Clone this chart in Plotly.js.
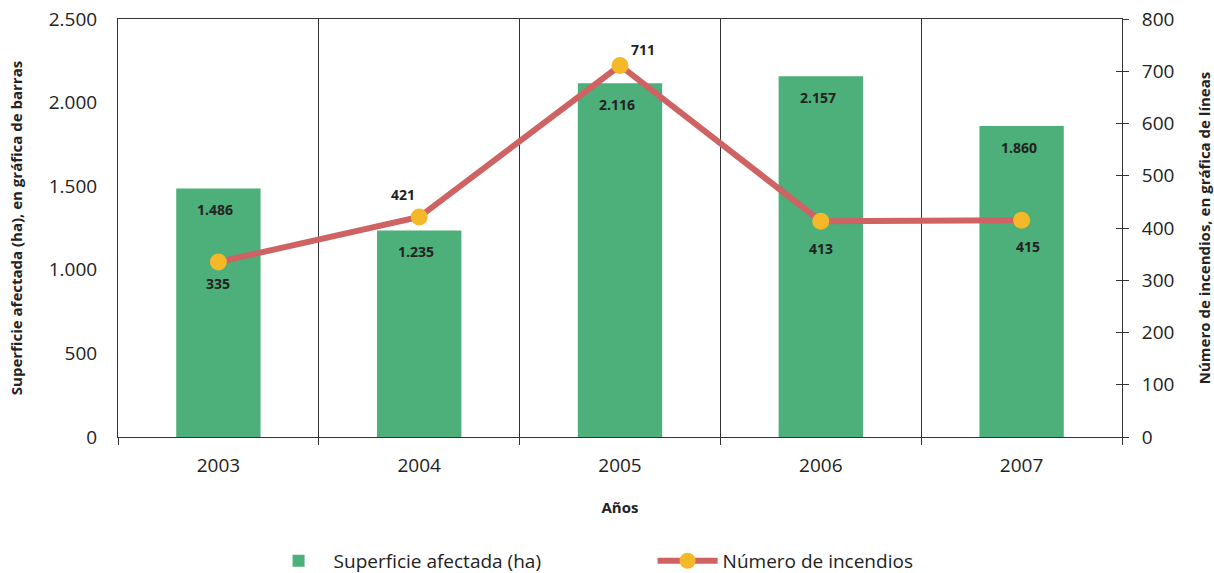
<!DOCTYPE html>
<html>
<head>
<meta charset="utf-8">
<script src="https://cdn.plot.ly/plotly-3.0.1.min.js"></script>
<style>html,body{margin:0;padding:0;background:#fff;}#chart{width:1214px;height:573px;}</style>
</head>
<body>
<div id="chart"></div>
<script>
// Data
var years = ['2003', '2004', '2005', '2006', '2007'];
var superficie = [1486, 1235, 2116, 2157, 1860];
var incendios = [335, 421, 711, 413, 415];
var leftTicks = [0, 500, 1000, 1500, 2000, 2500];
var rightTicks = [0, 100, 200, 300, 400, 500, 600, 700, 800];

// label offsets (styling only)
var lineLabelDx = [0, -16, 23, 0, 6];
var lineLabelDy = [-22, 23, 16, -27, -26];

function fmt(v) {
  var s = String(Math.round(v));
  return s.replace(/\B(?=(\d{3})+(?!\d))/g, '.');
}

var FONT = 'Open Sans, Noto Sans, sans-serif';
var TXT = '#222';

var traces = [
  {
    type: 'bar', name: 'Superficie afectada (ha)', x: years, y: superficie,
    marker: {color: '#4daf79'}, width: 0.42, yaxis: 'y'
  },
  {
    type: 'scatter', mode: 'lines+markers', name: 'Número de incendios',
    x: years, y: incendios, yaxis: 'y2',
    line: {color: '#cf6262', width: 6},
    marker: {color: '#f4b829', size: 17}
  },
  {
    type: 'scatter', mode: 'markers', x: years, y: incendios, yaxis: 'y3',
    marker: {opacity: 0}, showlegend: false, hoverinfo: 'skip'
  }
];

var annotations = [];
for (var i = 0; i < years.length; i++) {
  annotations.push({
    x: i, y: superficie[i], xref: 'x', yref: 'y',
    text: '<b>' + fmt(superficie[i]) + '</b>', showarrow: false, yshift: -21, xshift: -3,
    font: {family: FONT, size: 14, color: TXT}
  });
  annotations.push({
    x: i, y: incendios[i], xref: 'x', yref: 'y2',
    text: '<b>' + fmt(incendios[i]) + '</b>', showarrow: false,
    xshift: lineLabelDx[i], yshift: lineLabelDy[i],
    font: {family: FONT, size: 14, color: TXT}
  });
}

var layout = {
  width: 1214, height: 573,
  margin: {l: 118, r: 92, t: 19, b: 136, autoexpand: false},
  paper_bgcolor: '#fff', plot_bgcolor: '#fff',
  separators: ',.',
  font: {family: FONT, color: TXT, size: 19},
  showlegend: true,
  legend: {
    orientation: 'h', x: 0.145, y: -0.251, xanchor: 'left', yanchor: 'top',
    font: {family: FONT, size: 19, color: TXT}, itemwidth: 60,
    entrywidth: 314, entrywidthmode: 'pixels',
    traceorder: 'normal'
  },
  xaxis: {
    type: 'category', tickson: 'boundaries', showgrid: true,
    gridcolor: '#333', gridwidth: 1,
    showline: true, linecolor: '#333', linewidth: 1, mirror: true,
    ticks: 'outside', ticklen: 7, tickcolor: '#333',
    ticklabelstandoff: 11,
    tickfont: {family: FONT, size: 19, color: TXT},
    title: {text: '<b>Años</b>', font: {family: FONT, size: 15, color: TXT}, standoff: 25},
    range: [-0.5, 4.5]
  },
  yaxis: {
    range: [0, 2500], tickvals: leftTicks, separatethousands: true, tickformat: ',d',
    showgrid: false, zeroline: false,
    showline: true, linecolor: '#333', linewidth: 1,
    ticks: '', ticklabelstandoff: 16,
    tickfont: {family: FONT, size: 19, color: TXT},
    title: {text: '<b>Superficie afectada (ha), en gráfica de barras</b>', font: {family: FONT, size: 15, color: TXT}, standoff: 22}
  },
  yaxis2: {
    range: [0, 800], tickvals: rightTicks, overlaying: 'y', side: 'right',
    showgrid: false, zeroline: false,
    showline: true, linecolor: '#333', linewidth: 1,
    ticks: 'outside', ticklen: 6, tickcolor: '#333',
    ticklabelstandoff: 9,
    tickfont: {family: FONT, size: 19, color: TXT},
    title: {text: '<b>Número de incendios, en gráfica de líneas</b>', font: {family: FONT, size: 15, color: TXT}, standoff: 26}
  },
  yaxis3: {
    range: [0, 800], tickvals: rightTicks, overlaying: 'y', side: 'right',
    showgrid: false, zeroline: false, showline: false,
    ticks: 'inside', ticklen: 6, tickcolor: '#333', showticklabels: false
  },
  annotations: annotations,
  bargap: 0.58
};

Plotly.newPlot('chart', traces, layout, {displayModeBar: false, staticPlot: true});
</script>
</body>
</html>
